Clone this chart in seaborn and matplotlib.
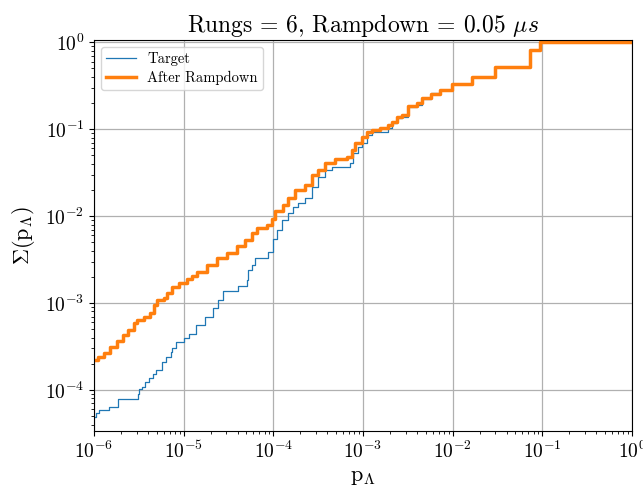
import matplotlib
matplotlib.use("Agg")
import matplotlib.pyplot as plt
import seaborn as sns
import pandas as pd

plt.rcParams.update({
    "font.family": "serif",
    "font.serif": ["cmr10", "DejaVu Serif"],
    "mathtext.fontset": "cm",
    "axes.formatter.use_mathtext": True,
    "axes.unicode_minus": False,
})

# Cumulative probability vs. state probability (step edges and levels)
target_p = [1.00e-6, 1.05e-6, 1.15e-6, 1.46e-6, 1.85e-6, 3.10e-6, 3.20e-6, 3.43e-6,
            3.73e-6, 4.14e-6, 4.52e-6, 4.91e-6, 5.73e-6, 6.43e-6, 7.13e-6, 7.50e-6,
            8.11e-6, 1.00e-5, 1.14e-5, 1.37e-5, 1.73e-5, 2.14e-5, 2.43e-5, 2.77e-5,
            4.04e-5, 5.05e-5, 5.26e-5, 5.74e-5, 6.24e-5, 8.71e-5, 9.91e-5, 1.09e-4,
            1.24e-4, 1.47e-4, 1.67e-4, 1.90e-4, 2.25e-4, 2.68e-4, 3.17e-4, 3.77e-4,
            4.48e-4, 7.16e-4, 7.80e-4, 8.85e-4, 9.66e-4, 1.10e-3, 1.25e-3, 1.91e-3,
            2.09e-3, 2.38e-3, 2.70e-3, 3.20e-3, 3.97e-3, 4.52e-3, 5.73e-3, 7.23e-3,
            9.91e-3, 1.66e-2, 2.97e-2, 7.28e-2, 9.42e-2, 1.0]
target_cum = [4.84e-5, 5.38e-5, 5.87e-5, 6.31e-5, 7.80e-5, 8.97e-5, 1.02e-4, 1.09e-4,
              1.24e-4, 1.36e-4, 1.52e-4, 1.69e-4, 2.07e-4, 2.39e-4, 2.73e-4, 3.03e-4,
              3.56e-4, 4.01e-4, 4.40e-4, 5.55e-4, 6.86e-4, 8.69e-4, 1.08e-3, 1.39e-3,
              1.57e-3, 1.84e-3, 2.40e-3, 2.74e-3, 3.27e-3, 3.86e-3, 5.46e-3, 7.01e-3,
              9.02e-3, 1.08e-2, 1.28e-2, 1.40e-2, 1.60e-2, 2.18e-2, 2.84e-2, 3.40e-2,
              3.65e-2, 4.06e-2, 5.28e-2, 6.24e-2, 7.03e-2, 8.57e-2, 9.35e-2, 0.102,
              0.117, 0.133, 0.139, 0.182, 0.190, 0.225, 0.258, 0.282,
              0.327, 0.395, 0.524, 0.815, 1.0, 1.0]

ramp_p = [1.00e-6, 1.11e-6, 1.29e-6, 1.51e-6, 1.80e-6, 2.13e-6, 2.39e-6, 2.79e-6,
          3.02e-6, 3.58e-6, 4.25e-6, 4.63e-6, 5.05e-6, 5.98e-6, 6.52e-6, 7.41e-6,
          8.81e-6, 1.08e-5, 1.24e-5, 1.40e-5, 1.81e-5, 2.33e-5, 3.02e-5, 3.90e-5,
          4.83e-5, 5.74e-5, 6.52e-5, 8.43e-5, 9.59e-5, 1.04e-4, 1.29e-4, 1.47e-4,
          1.75e-4, 2.25e-4, 2.68e-4, 3.17e-4, 3.77e-4, 4.88e-4, 6.58e-4, 7.48e-4,
          8.15e-4, 9.66e-4, 1.10e-3, 1.25e-3, 1.55e-3, 1.91e-3, 2.09e-3, 2.38e-3,
          2.70e-3, 3.20e-3, 3.97e-3, 4.52e-3, 5.73e-3, 7.23e-3, 9.91e-3, 1.66e-2,
          2.97e-2, 7.28e-2, 9.42e-2, 1.0]
ramp_cum = [2.21e-4, 2.39e-4, 2.66e-4, 3.12e-4, 3.66e-4, 4.29e-4, 4.89e-4, 5.89e-4,
            6.37e-4, 6.95e-4, 7.62e-4, 9.48e-4, 1.08e-3, 1.14e-3, 1.29e-3, 1.54e-3,
            1.69e-3, 1.87e-3, 2.05e-3, 2.29e-3, 2.74e-3, 3.27e-3, 3.73e-3, 4.53e-3,
            5.31e-3, 6.34e-3, 7.24e-3, 7.91e-3, 9.27e-3, 1.15e-2, 1.34e-2, 1.60e-2,
            2.00e-2, 2.28e-2, 2.97e-2, 3.40e-2, 4.06e-2, 4.51e-2, 4.83e-2, 5.77e-2,
            6.89e-2, 8.13e-2, 9.35e-2, 9.79e-2, 0.102, 0.112, 0.122, 0.139,
            0.146, 0.187, 0.199, 0.227, 0.254, 0.282, 0.327, 0.395,
            0.524, 0.815, 1.0, 1.0]

target_df = pd.DataFrame({"p": target_p, "cum": target_cum})
ramp_df = pd.DataFrame({"p": ramp_p, "cum": ramp_cum})

fig = plt.figure(figsize=(6.43, 4.98), dpi=100)
ax = fig.add_axes([0.1462, 0.1345, 0.8367, 0.7852])

sns.lineplot(data=target_df, x="p", y="cum", ax=ax, drawstyle="steps-post",
             estimator=None, sort=False, color="#1f77b4", linewidth=0.9,
             label="Target")
sns.lineplot(data=ramp_df, x="p", y="cum", ax=ax, drawstyle="steps-post",
             estimator=None, sort=False, color="#ff7f0e", linewidth=2.5,
             label="After Rampdown")

ax.set_xscale("log")
ax.set_yscale("log")
ax.set_xlim(1e-6, 1.0)
ax.set_ylim(3.37e-5, 1.063)
ax.grid(True, which="major", color="#b0b0b0", linewidth=0.9)
ax.tick_params(axis="both", which="major", labelsize=14)

ax.set_title(r"Rungs = 6, Rampdown = 0.05 $\mu s$", fontsize=17)
ax.set_xlabel(r"$\mathrm{p}_{\Lambda}$", fontsize=16)
ax.set_ylabel(r"$\Sigma(\mathrm{p}_{\Lambda})$", fontsize=16, labelpad=6)
ax.legend(loc="upper left", fontsize=10.5, framealpha=0.8,
          labelspacing=0.3, borderpad=0.35)

fig.savefig("out.png", dpi=100)
